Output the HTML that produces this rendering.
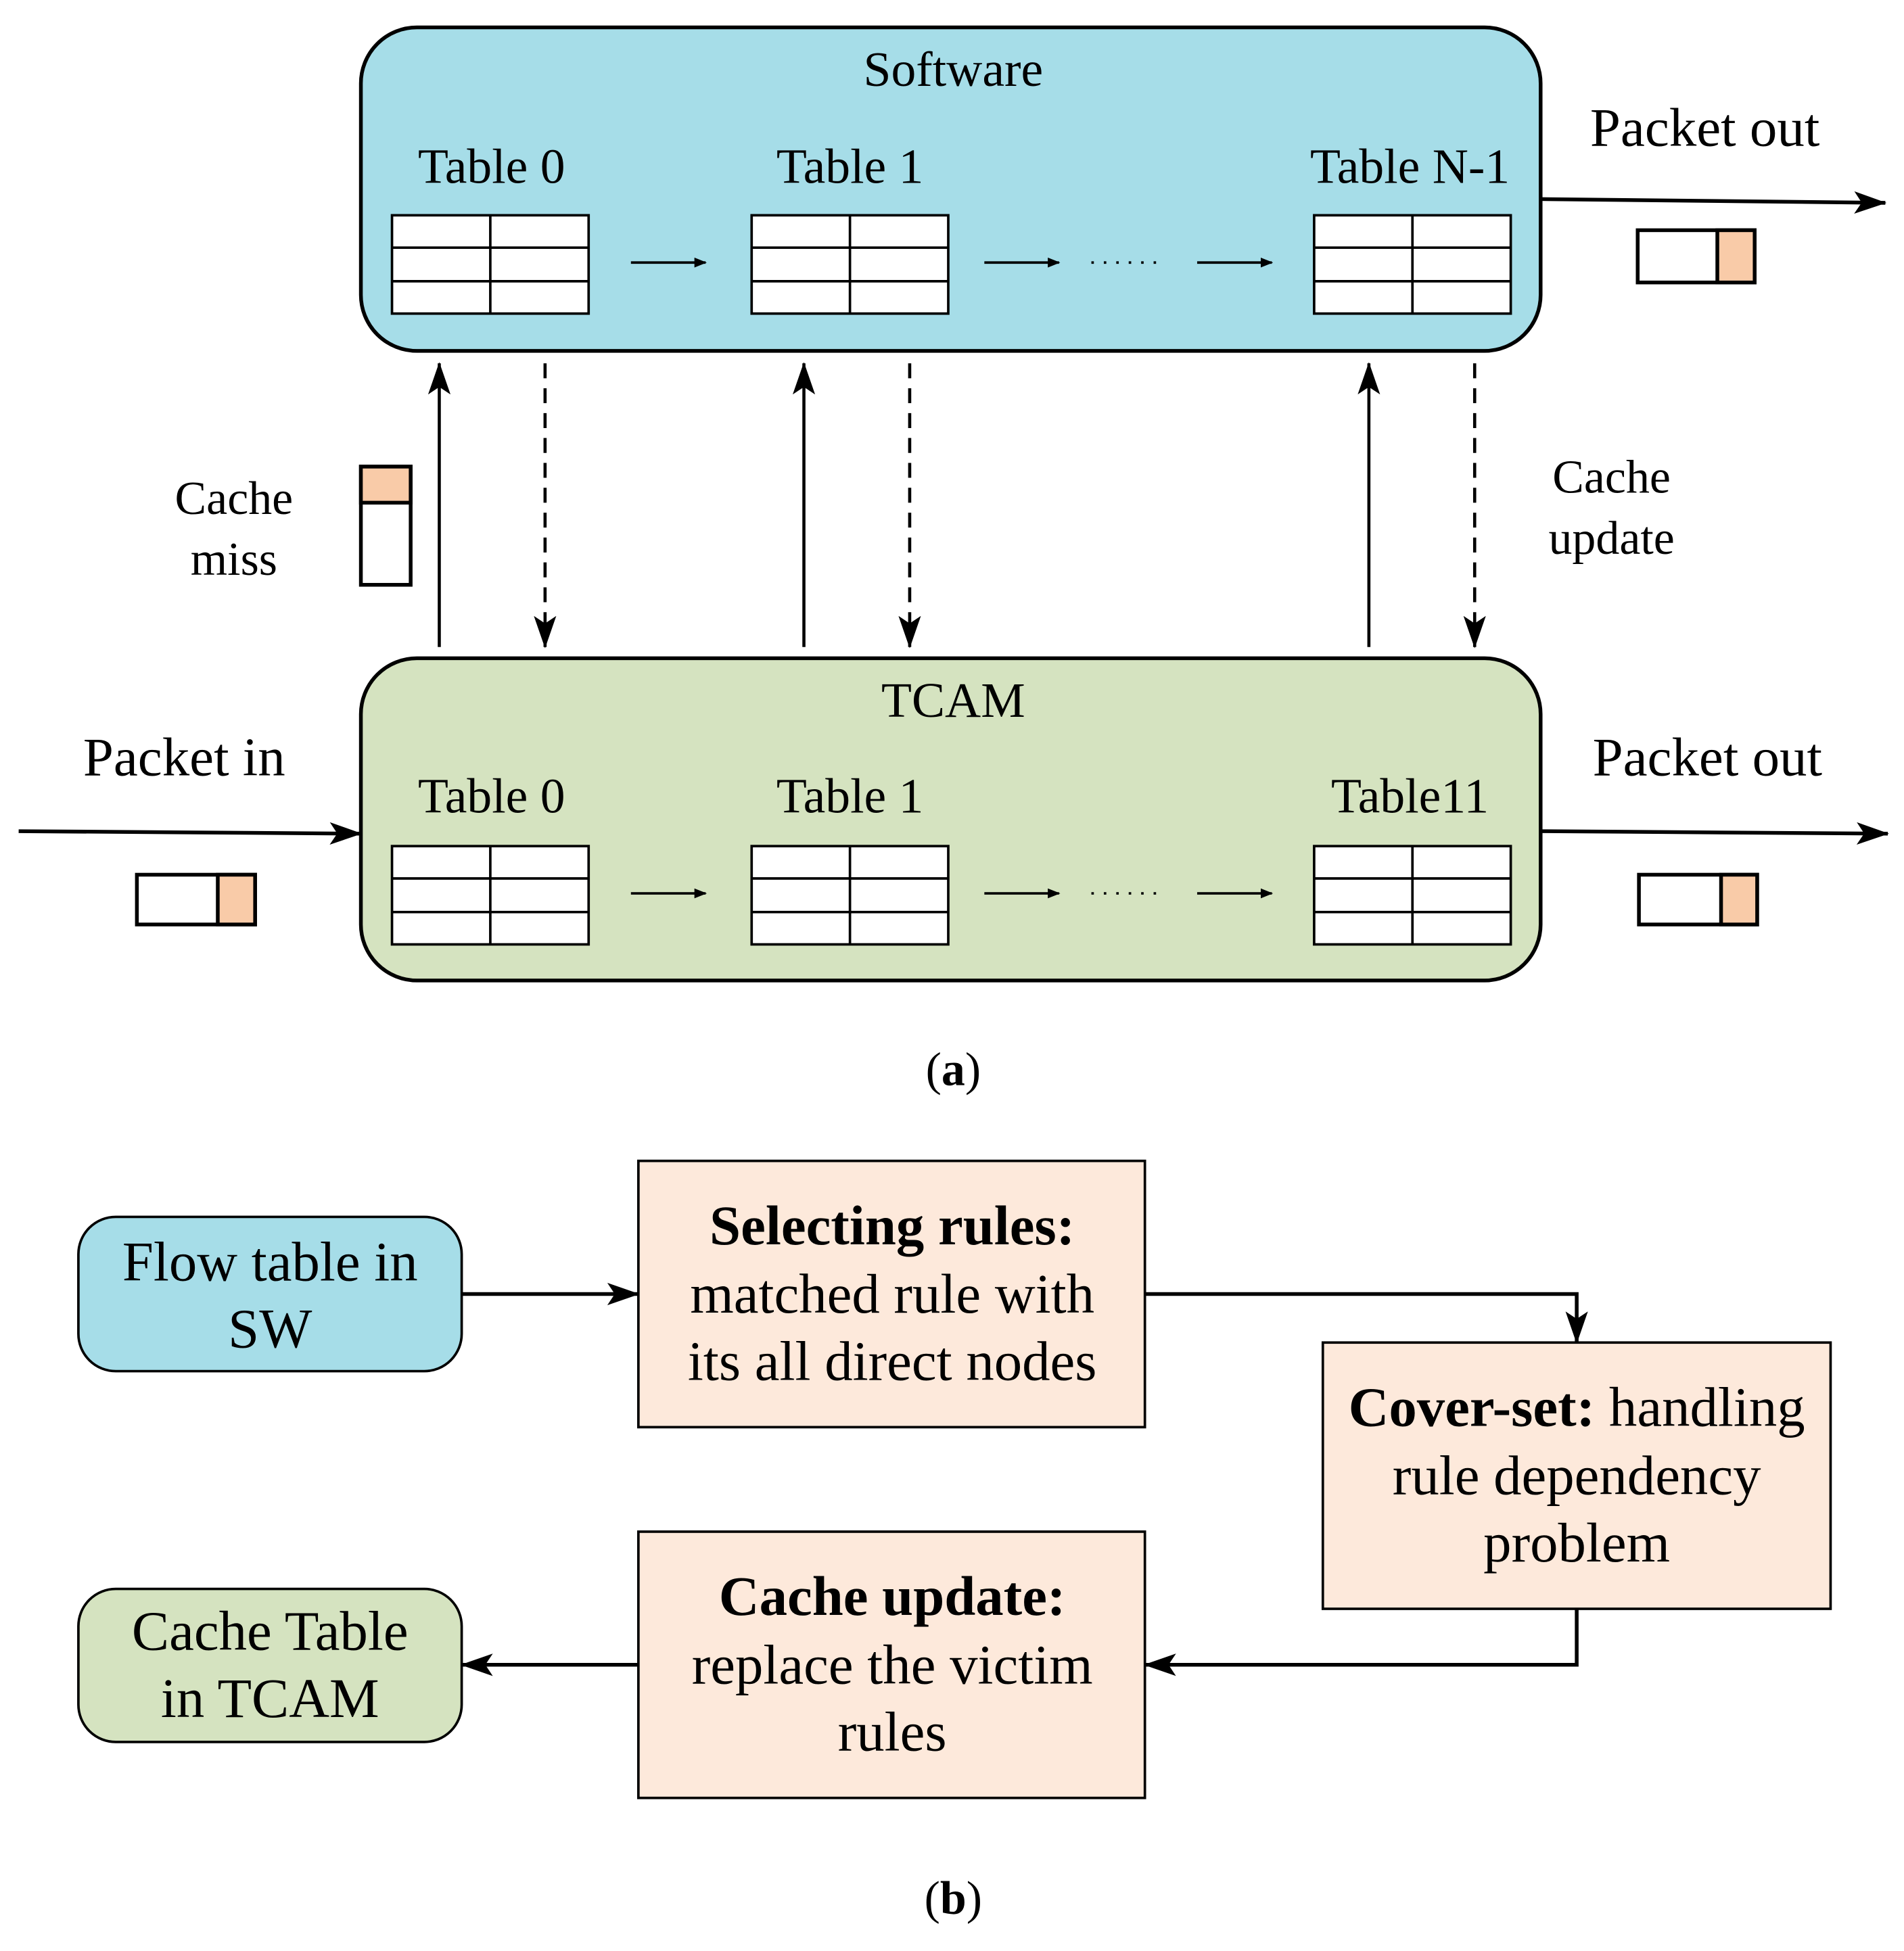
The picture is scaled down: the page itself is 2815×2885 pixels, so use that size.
<!DOCTYPE html>
<html><head><meta charset="utf-8"><style>
html,body{margin:0;padding:0;background:#fff;}
svg{display:block;}
text{font-family:"Liberation Serif",serif;fill:#000;}
</style></head><body>
<svg width="2815" height="2885" viewBox="0 0 1530 1568" xmlns="http://www.w3.org/2000/svg">
<defs>
<marker id="a" markerWidth="10" markerHeight="8" refX="9" refY="4" orient="auto" markerUnits="userSpaceOnUse">
<path d="M0,0 L10,4 L0,8 z" fill="#000"/></marker>
<marker id="b" markerWidth="26" markerHeight="18" refX="25" refY="9" orient="auto" markerUnits="userSpaceOnUse">
<path d="M0,0 L26,9 L0,18 L6,9 z" fill="#000"/></marker>
<g id="tbl">
<rect x="0" y="0" width="158" height="79" fill="#fff" stroke="#000" stroke-width="2"/>
<line x1="79" y1="0" x2="79" y2="79" stroke="#000" stroke-width="2"/>
<line x1="0" y1="26" x2="158" y2="26" stroke="#000" stroke-width="2"/>
<line x1="0" y1="53" x2="158" y2="53" stroke="#000" stroke-width="2"/>
</g>
</defs>

<!-- Software box -->
<rect x="290" y="22" width="948" height="260" rx="45" fill="#a6dde8" stroke="#000" stroke-width="3"/>
<text x="766" y="69" font-size="40" text-anchor="middle">Software</text>
<g font-size="40" text-anchor="middle">
<text x="395" y="147">Table 0</text><text x="683" y="147">Table 1</text><text x="1133" y="147">Table N-1</text>
</g>
<use href="#tbl" x="315" y="173"/><use href="#tbl" x="604" y="173"/><use href="#tbl" x="1056" y="173"/>
<g stroke="#000" stroke-width="2">
<line x1="507" y1="211" x2="567" y2="211" marker-end="url(#a)"/>
<line x1="791" y1="211" x2="851" y2="211" marker-end="url(#a)"/>
<line x1="962" y1="211" x2="1022" y2="211" marker-end="url(#a)"/>
<line x1="877" y1="211" x2="935" y2="211" stroke-dasharray="2,8"/>
</g>

<!-- TCAM box -->
<rect x="290" y="529" width="948" height="259" rx="45" fill="#d5e3c0" stroke="#000" stroke-width="3"/>
<text x="766" y="576" font-size="40" text-anchor="middle">TCAM</text>
<g font-size="40" text-anchor="middle">
<text x="395" y="653">Table 0</text><text x="683" y="653">Table 1</text><text x="1133" y="653">Table11</text>
</g>
<use href="#tbl" x="315" y="680"/><use href="#tbl" x="604" y="680"/><use href="#tbl" x="1056" y="680"/>
<g stroke="#000" stroke-width="2">
<line x1="507" y1="718" x2="567" y2="718" marker-end="url(#a)"/>
<line x1="791" y1="718" x2="851" y2="718" marker-end="url(#a)"/>
<line x1="962" y1="718" x2="1022" y2="718" marker-end="url(#a)"/>
<line x1="877" y1="718" x2="935" y2="718" stroke-dasharray="2,8"/>
</g>

<!-- Packet out top -->
<text x="1370" y="117" font-size="44" text-anchor="middle">Packet out</text>
<line x1="1238" y1="160" x2="1515" y2="163" stroke="#000" stroke-width="3" marker-end="url(#b)"/>
<rect x="1316" y="185" width="94" height="42" fill="#fff" stroke="#000" stroke-width="3"/>
<rect x="1380" y="185" width="30" height="42" fill="#f9cba8" stroke="#000" stroke-width="3"/>

<!-- vertical arrows -->
<g stroke="#000" stroke-width="2.5">
<line x1="353" y1="520" x2="353" y2="292" marker-end="url(#b)"/>
<line x1="646" y1="520" x2="646" y2="292" marker-end="url(#b)"/>
<line x1="1100" y1="520" x2="1100" y2="292" marker-end="url(#b)"/>
<line x1="438" y1="292" x2="438" y2="520" stroke-dasharray="12,8" marker-end="url(#b)"/>
<line x1="731" y1="292" x2="731" y2="520" stroke-dasharray="12,8" marker-end="url(#b)"/>
<line x1="1185" y1="292" x2="1185" y2="520" stroke-dasharray="12,8" marker-end="url(#b)"/>
</g>
<g font-size="38" text-anchor="middle">
<text x="188" y="413">Cache</text><text x="188" y="462">miss</text>
<text x="1295" y="396">Cache</text><text x="1295" y="445">update</text>
</g>
<rect x="290" y="375" width="40" height="95" fill="#fff" stroke="#000" stroke-width="3"/>
<rect x="290" y="375" width="40" height="29" fill="#f9cba8" stroke="#000" stroke-width="3"/>

<!-- Packet in -->
<text x="148" y="623" font-size="44" text-anchor="middle">Packet in</text>
<line x1="15" y1="668" x2="290" y2="670" stroke="#000" stroke-width="3" marker-end="url(#b)"/>
<rect x="110" y="703" width="95" height="40" fill="#fff" stroke="#000" stroke-width="3"/>
<rect x="175" y="703" width="30" height="40" fill="#f9cba8" stroke="#000" stroke-width="3"/>

<!-- Packet out bottom -->
<text x="1372" y="623" font-size="44" text-anchor="middle">Packet out</text>
<line x1="1238" y1="668" x2="1517" y2="670" stroke="#000" stroke-width="3" marker-end="url(#b)"/>
<rect x="1317" y="703" width="95" height="40" fill="#fff" stroke="#000" stroke-width="3"/>
<rect x="1383" y="703" width="29" height="40" fill="#f9cba8" stroke="#000" stroke-width="3"/>

<text x="766" y="872" font-size="38" text-anchor="middle">(<tspan font-weight="bold">a</tspan>)</text>

<!-- Part b -->
<rect x="63" y="978" width="308" height="124" rx="30" fill="#a6dde8" stroke="#000" stroke-width="2"/>
<g font-size="45" text-anchor="middle">
<text x="217" y="1029">Flow table in</text><text x="217" y="1083">SW</text>
</g>
<rect x="513" y="933" width="407" height="214" fill="#fde9db" stroke="#000" stroke-width="2"/>
<g font-size="45" text-anchor="middle">
<text x="717" y="1000" font-weight="bold">Selecting rules:</text>
<text x="717" y="1055">matched rule with</text>
<text x="717" y="1109">its all direct nodes</text>
</g>
<rect x="1063" y="1079" width="408" height="214" fill="#fde9db" stroke="#000" stroke-width="2"/>
<g font-size="45" text-anchor="middle">
<text x="1267" y="1146"><tspan font-weight="bold">Cover-set:</tspan> handling</text>
<text x="1267" y="1201">rule dependency</text>
<text x="1267" y="1255">problem</text>
</g>
<rect x="513" y="1231" width="407" height="214" fill="#fde9db" stroke="#000" stroke-width="2"/>
<g font-size="45" text-anchor="middle">
<text x="717" y="1298" font-weight="bold">Cache update:</text>
<text x="717" y="1353">replace the victim</text>
<text x="717" y="1407">rules</text>
</g>
<rect x="63" y="1277" width="308" height="123" rx="30" fill="#d5e3c0" stroke="#000" stroke-width="2"/>
<g font-size="45" text-anchor="middle">
<text x="217" y="1326">Cache Table</text><text x="217" y="1380">in TCAM</text>
</g>
<g stroke="#000" stroke-width="3" fill="none">
<line x1="371" y1="1040" x2="513" y2="1040" marker-end="url(#b)"/>
<polyline points="920,1040 1267,1040 1267,1079" marker-end="url(#b)"/>
<polyline points="1267,1293 1267,1338 920,1338" marker-end="url(#b)"/>
<line x1="513" y1="1338" x2="371" y2="1338" marker-end="url(#b)"/>
</g>

<text x="766" y="1538" font-size="38" text-anchor="middle">(<tspan font-weight="bold">b</tspan>)</text>
</svg>
</body></html>
